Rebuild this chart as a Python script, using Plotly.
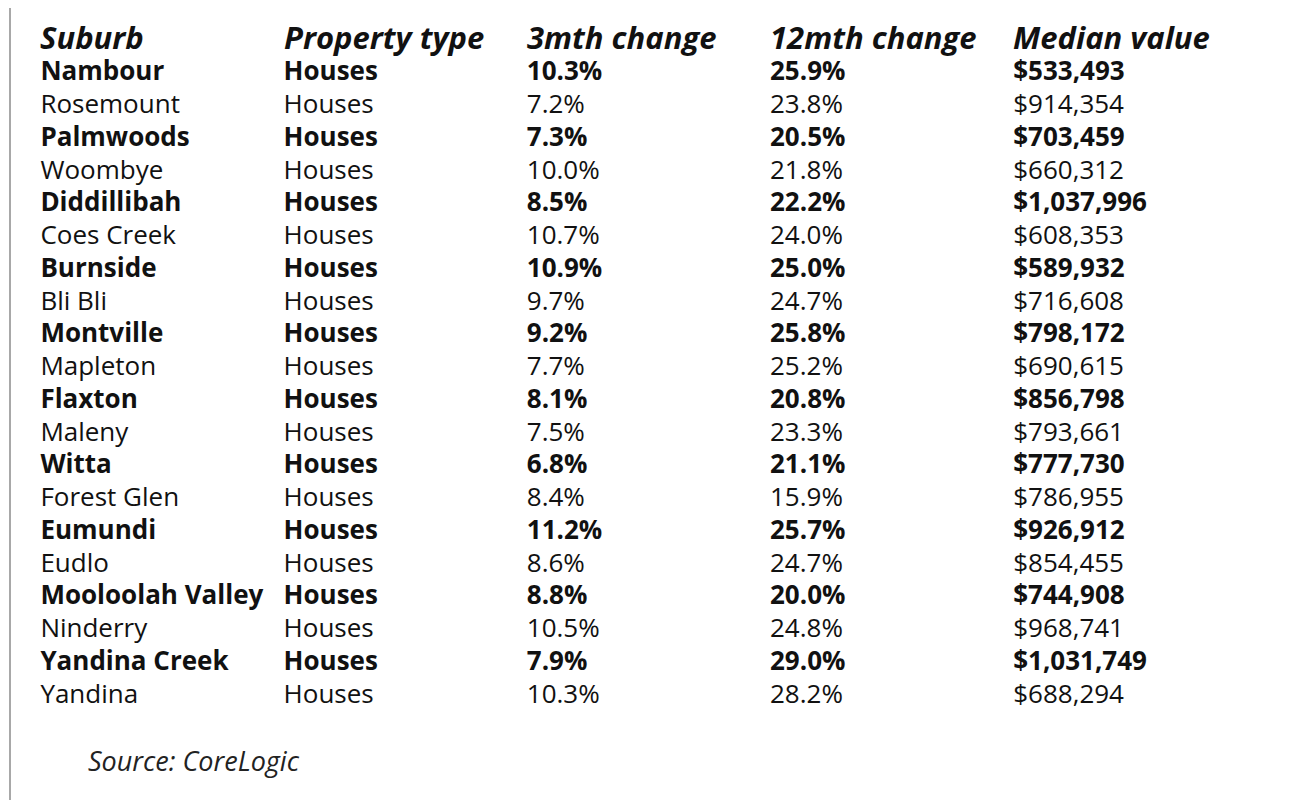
import plotly.graph_objects as go

# =============================================================================
# Data (CoreLogic, Sunshine Coast hinterland suburbs)
# =============================================================================
HEADERS = ["Suburb", "Property type", "3mth change", "12mth change", "Median value"]

suburbs = [
    "Nambour", "Rosemount", "Palmwoods", "Woombye", "Diddillibah",
    "Coes Creek", "Burnside", "Bli Bli", "Montville", "Mapleton",
    "Flaxton", "Maleny", "Witta", "Forest Glen", "Eumundi",
    "Eudlo", "Mooloolah Valley", "Ninderry", "Yandina Creek", "Yandina",
]
property_type = ["Houses"] * len(suburbs)
change_3m = [10.3, 7.2, 7.3, 10.0, 8.5, 10.7, 10.9, 9.7, 9.2, 7.7,
             8.1, 7.5, 6.8, 8.4, 11.2, 8.6, 8.8, 10.5, 7.9, 10.3]
change_12m = [25.9, 23.8, 20.5, 21.8, 22.2, 24.0, 25.0, 24.7, 25.8, 25.2,
              20.8, 23.3, 21.1, 15.9, 25.7, 24.7, 20.0, 24.8, 29.0, 28.2]
median_value = [533493, 914354, 703459, 660312, 1037996, 608353, 589932,
                716608, 798172, 690615, 856798, 793661, 777730, 786955,
                926912, 854455, 744908, 968741, 1031749, 688294]
SOURCE = "Source: CoreLogic"

FONT = "Open Sans"
INK = "#111111"


def emph(vals):
    # every other row (starting with the first) is set in bold
    return [f"<b>{v}</b>" if i % 2 == 0 else str(v) for i, v in enumerate(vals)]


columns = [
    emph(suburbs),
    emph(property_type),
    emph([f"{v:.1f}%" for v in change_3m]),
    emph([f"{v:.1f}%" for v in change_12m]),
    emph([f"${v:,}" for v in median_value]),
]

# =============================================================================
# One text trace per column: x = column (category), y = suburb (category)
# =============================================================================
fig = go.Figure()
for head, col in zip(HEADERS, columns):
    fig.add_trace(go.Scatter(
        x=[head] * len(suburbs), y=suburbs, text=col,
        mode="text", textposition="middle right",
        textfont=dict(family=FONT, size=26, color=INK),
        hoverinfo="skip", showlegend=False, cliponaxis=False,
    ))

# column headings sit above the first row
for head in HEADERS:
    fig.add_annotation(
        text=f"<b><i>{head}</i></b>", x=head, xref="x", y=0.964, yref="paper",
        xanchor="left", yanchor="middle", showarrow=False, xshift=-2,
        font=dict(family=FONT, size=31, color=INK),
    )

fig.add_annotation(
    text=f"<i>{SOURCE}</i>", xref="paper", yref="paper",
    x=0.0574, y=0.06, xanchor="left", yanchor="middle", showarrow=False,
    font=dict(family=FONT, size=27, color="#222222"),
)

fig.update_xaxes(
    type="category", categoryorder="array", categoryarray=HEADERS,
    range=[-0.1208, 5.2492], visible=False, fixedrange=True,
)
fig.update_yaxes(
    type="category", categoryorder="array", categoryarray=suburbs,
    range=[22.413, -2.015], showticklabels=False, showgrid=False,
    zeroline=False, ticks="", fixedrange=True,
    showline=True, linecolor="#a8a8a8", linewidth=2,
)
fig.update_layout(
    width=1309, height=800,
    margin=dict(l=3, r=0, t=0, b=0),
    paper_bgcolor="white", plot_bgcolor="white",
)
fig.write_html("out.html")
